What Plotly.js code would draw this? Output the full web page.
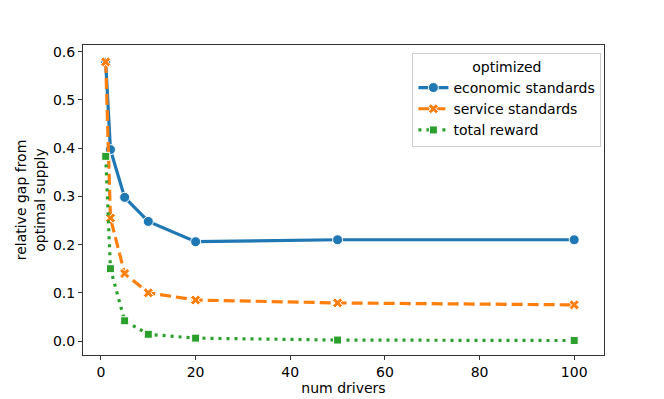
<!DOCTYPE html>
<html><head><meta charset="utf-8">
<script src="https://cdn.plot.ly/plotly-3.0.1.min.js"></script>
<style>body{margin:0;padding:0;background:#fff}#chart{width:664px;height:399px}</style>
</head><body><div id="chart"></div>
<script>
const numDrivers = [1, 2, 5, 10, 20, 50, 100];
const economic = [0.578, 0.397, 0.298, 0.248, 0.206, 0.210, 0.210];
const service = [0.579, 0.255, 0.140, 0.100, 0.085, 0.079, 0.075];
const totalReward = [0.383, 0.150, 0.042, 0.014, 0.006, 0.002, 0.001];
const names = ["economic standards", "service standards", "total reward"];

const font = {family: "DejaVu Sans", size: 14, color: "#000"};
const traces = [
  {x: numDrivers, y: economic, name: names[0], mode: "lines+markers",
   line: {color: "#1f77b4", width: 3.2},
   marker: {symbol: "circle", size: 10, color: "#1f77b4", line: {color: "#fff", width: 1}}},
  {x: numDrivers, y: service, name: names[1], mode: "lines+markers",
   line: {color: "#ff7f0e", width: 3.2, dash: "11px,5px"},
   marker: {symbol: "x", size: 9, color: "#ff7f0e", line: {color: "#fff", width: 1}}},
  {x: numDrivers, y: totalReward, name: names[2], mode: "lines+markers",
   line: {color: "#2ca02c", width: 3.2, dash: "3px,5px"},
   marker: {symbol: "square", size: 8, color: "#2ca02c", line: {color: "#fff", width: 1}}}
];
const axisCommon = {showline: true, mirror: true, linecolor: "#333", linewidth: 1,
  ticks: "outside", ticklen: 4, tickcolor: "#333", showgrid: false, zeroline: false,
  tickfont: font};
const layout = {
  width: 664, height: 399, paper_bgcolor: "#fff", plot_bgcolor: "#fff",
  margin: {l: 83, r: 60, t: 45, b: 44}, font: font,
  xaxis: Object.assign({}, axisCommon, {range: [-3.8, 106.3], tickvals: [0,20,40,60,80,100],
    title: {text: "num drivers", font: font, standoff: 3}}),
  yaxis: Object.assign({}, axisCommon, {range: [-0.029, 0.614], tickvals: [0,0.1,0.2,0.3,0.4,0.5,0.6],
    tickformat: ".1f", title: {text: "relative gap from<br>optimal supply", font: font, standoff: 4}}),
  legend: {x: 0.995, y: 0.975, xanchor: "right", yanchor: "top", bgcolor: "rgba(255,255,255,0.8)",
    bordercolor: "#ccc", borderwidth: 1, font: font, tracegroupgap: 0, itemwidth: 30,
    title: {text: "optimized", font: font, side: "top center"}},
  showlegend: true
};
Plotly.newPlot("chart", traces, layout, {staticPlot: true});
</script></body></html>
